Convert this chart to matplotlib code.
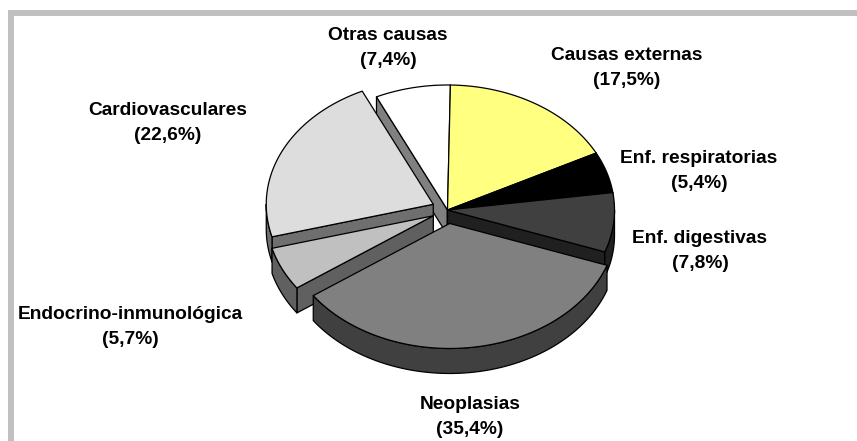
import numpy as np
import matplotlib
matplotlib.use('Agg')
import matplotlib.pyplot as plt
from matplotlib.patches import Polygon, Rectangle

labels = ['Causas externas', 'Enf. respiratorias', 'Enf. digestivas', 'Neoplasias',
          'Endocrino-inmunológica', 'Cardiovasculares', 'Otras causas']
values = [17.5, 5.4, 7.8, 35.4, 5.7, 22.6, 7.4]
value_texts = ['(17,5%)', '(5,4%)', '(7,8%)', '(35,4%)', '(5,7%)', '(22,6%)', '(7,4%)']

top_colors = ['#ffff80', '#000000', '#404040', '#808080', '#c0c0c0', '#dddddd', '#ffffff']
side_colors = ['#808000', '#000000', '#202020', '#404040', '#606060', '#6f6f6f', '#808080']
exploded = [False, False, False, True, True, True, False]
label_pos = [(627, 68), (699, 171), (700, 251), (470, 417), (130, 327), (168, 123), (388, 48)]

cx, cy = 447.5, 210
rx, ry = 167, 125
depth = 25
start_angle = 1.0
ex_x, ex_y = 15.7, 13.6

plt.rcParams['font.family'] = ['Liberation Sans', 'DejaVu Sans']
fig = plt.figure(figsize=(8.57, 4.41), dpi=100)
ax = fig.add_axes([0, 0, 1, 1])
ax.set_xlim(0, 857)
ax.set_ylim(441, 0)
ax.axis('off')

# marco gris
ax.add_patch(Rectangle((8, 10), 849, 6, fc='#c0c0c0', ec='none'))
ax.add_patch(Rectangle((8, 10), 6, 431, fc='#c0c0c0', ec='none'))


def rim(x0, y0, t):
    t = np.radians(t)
    return np.column_stack([x0 + rx * np.sin(t), y0 - ry * np.cos(t)])


def draw_poly(pts, color, z):
    ax.add_patch(Polygon(pts, closed=True, fc=color, ec='black', lw=0.9, joinstyle='round', zorder=z))


def draw_slice(t0, t1, color, side, x0, y0, z):
    # cortes laterales
    for t, visible in [(t0, np.sin(np.radians(t0)) < 0), (t1, np.sin(np.radians(t1)) > 0)]:
        if visible:
            p = rim(x0, y0, np.array([t]))[0]
            draw_poly([(x0, y0), p, (p[0], p[1] + depth), (x0, y0 + depth)], side, z)
    # borde curvo, solo la mitad de delante
    a, b = max(t0, 90), min(t1, 270)
    if a < b:
        arc = rim(x0, y0, np.linspace(a, b, 80))
        low = arc + [0, depth]
        draw_poly(np.vstack([arc, low[::-1]]), side, z)
    # cara de arriba
    top = rim(x0, y0, np.linspace(t0, t1, 120))
    draw_poly(np.vstack([[(x0, y0)], top]), color, z + 0.5)


total = sum(values)
spans = np.array(values) / total * 360
starts = start_angle + np.concatenate([[0], np.cumsum(spans)[:-1]])

# se dibuja de atras hacia delante
order = [6, 0, 1, 2, 5, 4, 3]
for z, i in enumerate(order):
    t0, t1 = starts[i], starts[i] + spans[i]
    x0, y0 = cx, cy
    if exploded[i]:
        mid = np.radians((t0 + t1) / 2)
        x0 += ex_x * np.sin(mid)
        y0 -= ex_y * np.cos(mid)
    draw_slice(t0, t1, top_colors[i], side_colors[i], x0, y0, z + 2)

for name, val, pos in zip(labels, value_texts, label_pos):
    ax.text(pos[0], pos[1], name + '\n' + val, ha='center', va='center', fontsize=13.8,
            fontweight='bold', color='black', linespacing=1.55, zorder=20)

fig.savefig('out.png', dpi=100)
